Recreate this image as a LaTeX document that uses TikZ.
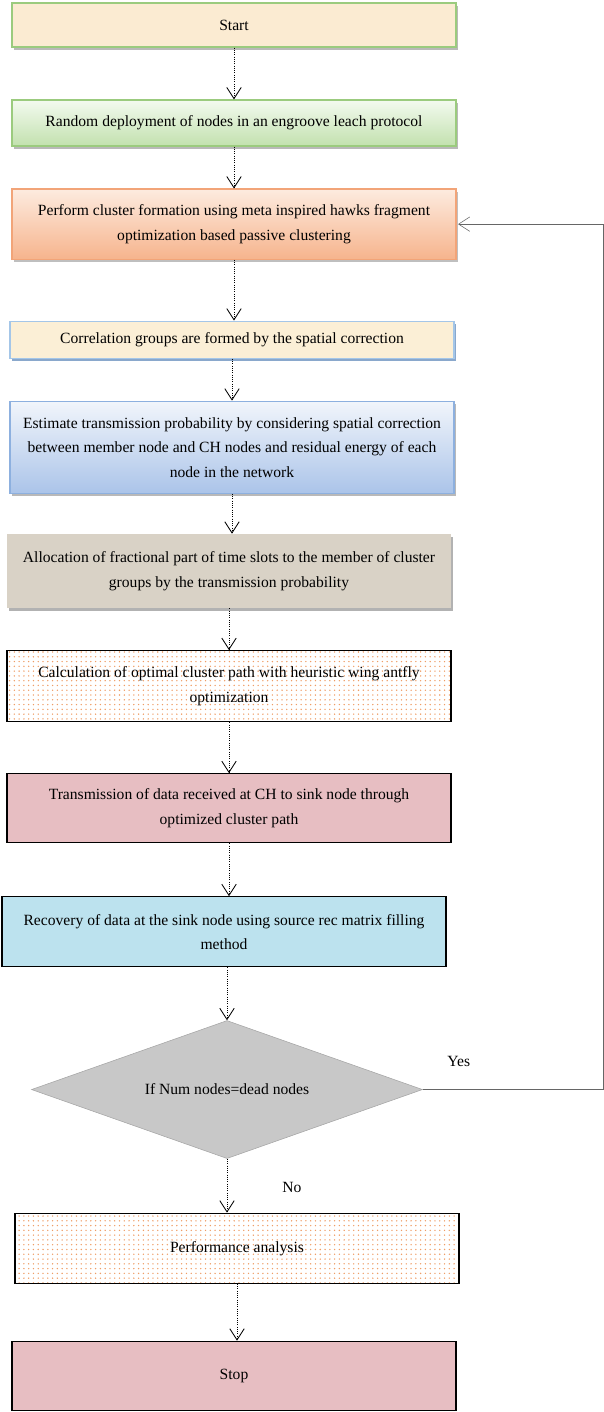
\documentclass[tikz,border=0pt]{standalone}
\usepackage{fontspec}
\setmainfont{Liberation Serif}
\usetikzlibrary{shapes.geometric, arrows.meta, positioning, calc, patterns.meta, shadows}
\definecolor{leafgreen}{HTML}{9BCB7E}
\definecolor{creamfill}{HTML}{FBEBD2}
\definecolor{greentop}{HTML}{F3FAEF}
\definecolor{greenbot}{HTML}{C2E1AE}
\definecolor{peachtop}{HTML}{FDEBDF}
\definecolor{peachbot}{HTML}{F6B48D}
\definecolor{peachline}{HTML}{F2A478}
\definecolor{sandfill}{HTML}{FBEFD6}
\definecolor{skyline}{HTML}{A4C6E8}
\definecolor{skyshadow}{HTML}{8AA8CC}
\definecolor{bluetop}{HTML}{F1F5FB}
\definecolor{bluebot}{HTML}{ABC4E9}
\definecolor{blueline}{HTML}{8DB0DF}
\definecolor{stonefill}{HTML}{D9D2C6}
\definecolor{dotorange}{HTML}{EE9D66}
\definecolor{rosefill}{HTML}{E7BEC2}
\definecolor{waterfill}{HTML}{BCE2EE}
\definecolor{decgray}{HTML}{C8C8C8}

\begin{document}
\begin{tikzpicture}[
    node distance=1.2cm,
    flowbox/.style={rectangle, minimum width=11.1cm, align=center, inner sep=2pt, font=\fontsize{11.1}{17.4}\selectfont},
    softshadow/.style={drop shadow={shadow xshift=1.3pt, shadow yshift=-1.8pt, fill=#1, opacity=1}},
    startbox/.style={flowbox, draw=leafgreen, line width=0.9pt, fill=creamfill, softshadow=gray!55},
    greenbox/.style={flowbox, draw=leafgreen, line width=0.9pt, top color=greentop, bottom color=greenbot, softshadow=gray!55},
    peachbox/.style={flowbox, draw=peachline, line width=0.9pt, top color=peachtop, bottom color=peachbot, softshadow=gray!50},
    sandbox/.style={flowbox, draw=skyline, line width=0.9pt, fill=sandfill, softshadow=skyshadow},
    bluebox/.style={flowbox, draw=blueline, line width=0.9pt, top color=bluetop, bottom color=bluebot, softshadow=gray!55},
    stonebox/.style={flowbox, fill=stonefill, softshadow=gray!60},
    dotbox/.style={flowbox, draw=black, line width=0.9pt, pattern={Dots[distance=3.4pt, radius=0.55pt]}, pattern color=dotorange},
    rosebox/.style={flowbox, draw=black, line width=0.9pt, fill=rosefill},
    waterbox/.style={flowbox, draw=black, line width=0.9pt, fill=waterfill},
    decision/.style={diamond, aspect=2.83, minimum width=9.775cm, minimum height=3.45cm, inner sep=0pt, draw=gray!70, fill=decgray, font=\fontsize{11.1}{17.4}\selectfont},
    lbl/.style={font=\fontsize{11.1}{17.4}\selectfont},
    arrow/.style={densely dotted, semithick, -{Straight Barb[length=2.8mm, width=3.6mm]}},
    backline/.style={thin, -{Straight Barb[length=2.8mm, width=3.6mm]}}
]
    \useasboundingbox (0,0) rectangle (15.1,-35.3);
    \coordinate (rt) at (15.08,0);

    \node[startbox, minimum height=1.1cm] (start) at (5.85,-0.625) {Start};
    \node[greenbox, minimum height=1.15cm, below=1.295cm of start] (deploy) {Random deployment of nodes in an engroove leach protocol};
    \node[peachbox, minimum height=1.75cm, below=1.045cm of deploy] (cluster) {Perform cluster formation using meta inspired hawks fragment\\optimization based passive clustering};
    \node[sandbox, minimum height=0.925cm, below=1.52cm of cluster, xshift=-0.05cm] (corr) {Correlation groups are formed by the spatial correction};
    \node[bluebox, minimum height=2.3cm, below=1.045cm of corr] (prob) {Estimate transmission probability by considering spatial correction\\between member node and CH nodes and residual energy of each\\node in the network};
    \node[stonebox, minimum height=1.85cm, below=0.995cm of prob, xshift=-0.075cm] (alloc) {Allocation of fractional part of time slots to the member of cluster\\groups by the transmission probability};
    \node[dotbox, minimum height=1.775cm, below=1.045cm of alloc] (path) {Calculation of optimal cluster path with heuristic wing antfly\\optimization};
    \node[rosebox, minimum height=1.725cm, below=1.27cm of path] (trans) {Transmission of data received at CH to sink node through\\optimized cluster path};
    \node[waterbox, minimum height=1.75cm, below=1.32cm of trans, xshift=-0.125cm] (recover) {Recovery of data at the sink node using source rec matrix filling\\method};
    \node[decision, below=1.32cm of recover, xshift=0.075cm] (dead) {If Num nodes=dead nodes};
    \node[dotbox, minimum height=1.75cm, below=1.345cm of dead, xshift=0.25cm] (perf) {Performance analysis};
    \node[rosebox, minimum height=1.725cm, below=1.42cm of perf, xshift=-0.075cm] (stop) {Stop};

    \node[lbl] (yes) at ([xshift=0.9cm, yshift=0.7cm]dead.east) {Yes};
    \node[lbl] (no) at ([xshift=1.625cm, yshift=-0.725cm]dead.south) {No};

    \draw[arrow] (start) -- (deploy);
    \draw[arrow] (deploy) -- (cluster);
    \draw[arrow] (cluster) -- (cluster |- corr.north);
    \draw[arrow] (corr) -- (prob);
    \draw[arrow] (prob) -- (prob |- alloc.north);
    \draw[arrow] (alloc) -- (path);
    \draw[arrow] (path) -- (trans);
    \draw[arrow] (trans) -- (trans |- recover.north);
    \draw[arrow] (recover.south -| dead) -- (dead);
    \draw[arrow] (dead) -- (dead |- perf.north);
    \draw[arrow] (perf) -- (perf |- stop.north);
    \draw[backline, gray!80!black] (dead.east) -- (dead.east -| rt) -- (rt |- cluster.east) -- ([xshift=1pt]cluster.east);
\end{tikzpicture}
\end{document}
